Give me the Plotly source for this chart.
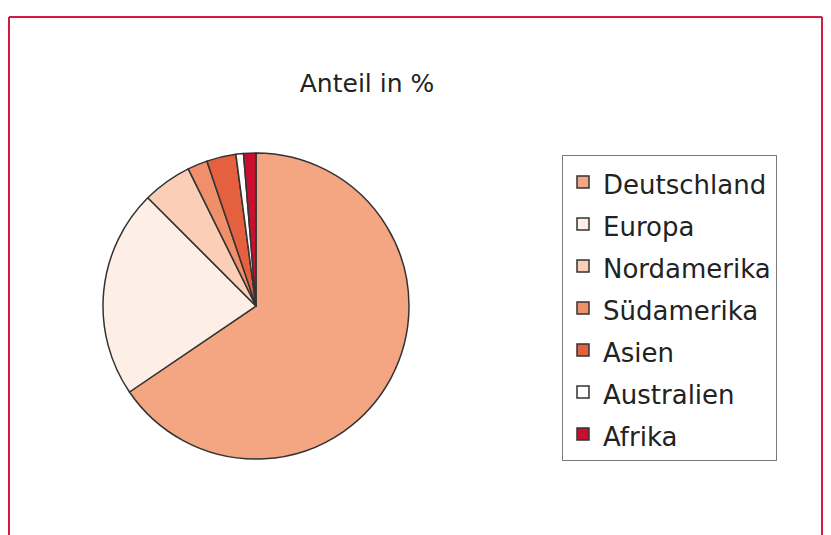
import plotly.graph_objects as go

regions = ["Deutschland", "Europa", "Nordamerika", "Südamerika", "Asien", "Australien", "Afrika"]
shares = [65.5, 22.0, 5.2, 2.1, 3.1, 0.8, 1.3]
slice_colors = ["#F4A582", "#FDEFE6", "#FBCFB7", "#F0906A", "#E5603E", "#FFFFFF", "#C8102E"]
title_text = "Anteil in %"

W, H = 831, 535
cx, cy, r = 256, 306, 153

labels = ['<span style="font-size:26px">%s</span>' % s for s in regions]

fig = go.Figure(go.Pie(
    labels=labels,
    values=shares,
    sort=False,
    direction="clockwise",
    rotation=0,
    textinfo="none",
    hoverinfo="label+percent",
    marker=dict(colors=slice_colors, line=dict(color="#333333", width=1.5)),
    domain=dict(x=[(cx - r) / W, (cx + r) / W], y=[(H - cy - r) / H, (H - cy + r) / H]),
))

fig.update_layout(
    width=W, height=H,
    margin=dict(l=0, r=0, t=0, b=0),
    paper_bgcolor="white",
    font=dict(family="DejaVu Sans", color="#222222"),
    title=dict(text=title_text, x=367 / W, xanchor="center", y=1 - 83 / H, yanchor="middle",
               font=dict(size=25, family="DejaVu Sans", color="#222222")),
    showlegend=True,
    legend=dict(x=562 / W, xanchor="left", y=1 - 155 / H, yanchor="top",
                bordercolor="#7a7a7a", borderwidth=1, bgcolor="white",
                font=dict(size=30, family="DejaVu Sans", color="#222222"),
                traceorder="normal"),
    shapes=[
        dict(type="line", xref="paper", yref="paper", x0=9 / W, x1=9 / W, y0=-0.01, y1=1 - 17 / H,
             line=dict(color="#D9183F", width=2)),
        dict(type="line", xref="paper", yref="paper", x0=9 / W, x1=822 / W, y0=1 - 17 / H, y1=1 - 17 / H,
             line=dict(color="#D9183F", width=2)),
        dict(type="line", xref="paper", yref="paper", x0=822 / W, x1=822 / W, y0=-0.01, y1=1 - 17 / H,
             line=dict(color="#D9183F", width=2)),
    ],
)

fig.write_html("out.html")
